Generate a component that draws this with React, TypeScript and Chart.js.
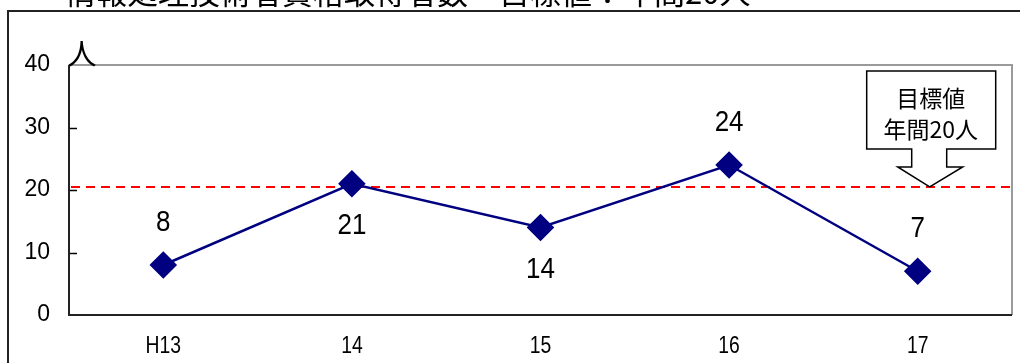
import React, { useEffect, useRef } from "react";
import { Chart, registerables } from "chart.js";

Chart.register(...registerables);

const categories = ["H13", "14", "15", "16", "17"];
const counts = [8, 21, 14, 24, 7];
const labelAbove = [true, false, false, true, true];
const targetValue = 20.5;
const yMin = 0;
const yMax = 40;
const yStep = 10;
const titleText = "情報処理技術者資格取得者数　目標値：年間20人";
const unitLabel = "人";
const calloutLines = ["目標値", "年間20人"];

const SANS = "'Liberation Sans', Arial, sans-serif";
const CJK = "'Noto Sans CJK JP', 'Liberation Sans', sans-serif";

const decorPlugin = {
  id: "decor",
  beforeDatasetsDraw(chart: any) {
    const { ctx, chartArea: a, scales } = chart;
    const y = scales.y;
    ctx.save();
    ctx.strokeStyle = "#000";
    ctx.lineWidth = 1.5;
    for (let v = yMin + yStep; v < yMax; v += yStep) {
      const py = Math.round(y.getPixelForValue(v)) + 0.5;
      ctx.beginPath();
      ctx.moveTo(a.left, py);
      ctx.lineTo(a.left + 8, py);
      ctx.stroke();
    }
    ctx.lineWidth = 2;
    ctx.strokeStyle = "#9a9a9a";
    ctx.beginPath();
    ctx.moveTo(a.left, a.top);
    ctx.lineTo(a.right, a.top);
    ctx.lineTo(a.right, a.bottom);
    ctx.stroke();
    ctx.strokeStyle = "#222";
    ctx.beginPath();
    ctx.moveTo(a.left, a.top);
    ctx.lineTo(a.left, a.bottom);
    ctx.lineTo(a.right, a.bottom);
    ctx.stroke();
    const ty = y.getPixelForValue(targetValue);
    ctx.strokeStyle = "#ff0000";
    ctx.lineWidth = 2;
    ctx.setLineDash([9, 6]);
    ctx.beginPath();
    ctx.moveTo(a.left + 2, ty);
    ctx.lineTo(a.right - 2, ty);
    ctx.stroke();
    ctx.restore();
  },
  afterDraw(chart: any) {
    const { ctx, chartArea: a, scales } = chart;
    const x = scales.x;
    const y = scales.y;
    ctx.save();

    ctx.fillStyle = "#000";
    ctx.textAlign = "center";
    ctx.textBaseline = "middle";
    ctx.font = `22px ${SANS}`;
    categories.forEach((c, i) => {
      const px = x.getPixelForValue(i);
      ctx.save();
      ctx.translate(px, a.bottom + 31);
      ctx.scale(0.88, 1.12);
      ctx.fillText(c, 0, 0);
      ctx.restore();
    });

    ctx.font = `26px ${SANS}`;
    counts.forEach((v, i) => {
      const px = x.getPixelForValue(i);
      const py = y.getPixelForValue(v) + (labelAbove[i] ? -42 : 42);
      ctx.save();
      ctx.translate(px, py);
      ctx.scale(1, 1.12);
      ctx.fillText(String(v), 0, 0);
      ctx.restore();
    });

    ctx.save();
    ctx.font = `29px ${CJK}`;
    ctx.textBaseline = "alphabetic";
    ctx.translate(a.left + 13, a.top);
    ctx.fillText(unitLabel, 0, 0);
    ctx.restore();

    const tx = x.getPixelForValue(categories.length - 1) + 12;
    const ty = y.getPixelForValue(targetValue);
    ctx.beginPath();
    ctx.moveTo(tx - 63, ty - 116);
    ctx.lineTo(tx + 66, ty - 116);
    ctx.lineTo(tx + 66, ty - 38);
    ctx.lineTo(tx + 17, ty - 38);
    ctx.lineTo(tx + 17, ty - 20);
    ctx.lineTo(tx + 33, ty - 20);
    ctx.lineTo(tx, ty);
    ctx.lineTo(tx - 32, ty - 20);
    ctx.lineTo(tx - 18, ty - 20);
    ctx.lineTo(tx - 18, ty - 38);
    ctx.lineTo(tx - 63, ty - 38);
    ctx.closePath();
    ctx.fillStyle = "#fff";
    ctx.fill();
    ctx.strokeStyle = "#000";
    ctx.lineWidth = 1.5;
    ctx.stroke();
    ctx.fillStyle = "#000";
    ctx.font = `23px ${CJK}`;
    ctx.textBaseline = "middle";
    ctx.fillText(calloutLines[0], tx + 1, ty - 89);
    ctx.fillText(calloutLines[1], tx + 1, ty - 58);

    ctx.strokeStyle = "#222";
    ctx.lineWidth = 2;
    ctx.beginPath();
    ctx.moveTo(8, chart.height + 2);
    ctx.lineTo(8, 11);
    ctx.lineTo(chart.width + 2, 11);
    ctx.stroke();

    ctx.font = `31px ${CJK}`;
    ctx.textAlign = "left";
    ctx.textBaseline = "alphabetic";
    ctx.fillText(titleText, 65, 4);

    ctx.restore();
  },
};

export default function App() {
  const ref = useRef<HTMLCanvasElement | null>(null);
  useEffect(() => {
    document.body.style.margin = "0";
    const canvas = ref.current;
    if (!canvas) return;
    const chart = new Chart(canvas, {
      type: "line",
      data: {
        labels: categories,
        datasets: [
          {
            data: counts,
            borderColor: "#000080",
            backgroundColor: "#000080",
            borderWidth: 2.5,
            pointStyle: "rectRot",
            pointRadius: 12,
            pointBackgroundColor: "#000080",
            pointBorderColor: "#000080",
            tension: 0,
          },
        ],
      },
      options: {
        responsive: false,
        animation: false,
        devicePixelRatio: 1,
        layout: { padding: { top: 65, right: 8, left: 0, bottom: 0 }, autoPadding: false },
        plugins: {
          legend: { display: false },
          tooltip: { enabled: false },
          title: { display: false },
        },
        scales: {
          x: {
            type: "category",
            offset: true,
            grid: { display: false, drawTicks: false },
            border: { display: false },
            ticks: { display: false },
            afterFit: (s: any) => {
              s.height = 48;
              s.paddingLeft = 0;
              s.paddingRight = 0;
            },
          },
          y: {
            min: yMin,
            max: yMax,
            grid: { display: false, drawTicks: false },
            border: { display: false },
            ticks: {
              stepSize: yStep,
              padding: 19,
              color: "#000",
              font: { family: SANS, size: 23 },
            },
            afterFit: (s: any) => {
              s.width = 69;
              s.paddingTop = 0;
              s.paddingBottom = 0;
            },
          },
        },
      },
      plugins: [decorPlugin],
    });
    return () => chart.destroy();
  }, []);
  return (
    <div style={{ position: "fixed", left: 0, top: 0, width: 1020, height: 363 }}>
      <canvas ref={ref} width={1020} height={363} style={{ display: "block" }} />
    </div>
  );
}
